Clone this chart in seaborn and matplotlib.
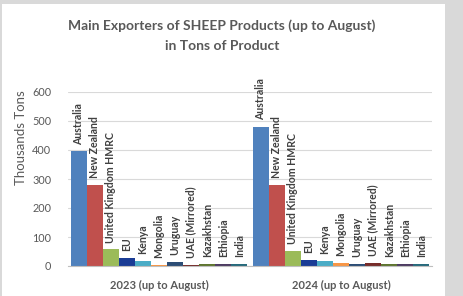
import pandas as pd
import seaborn as sns
import matplotlib.pyplot as plt
from matplotlib.patches import Rectangle

periods = ["2023 (up to August)", "2024 (up to August)"]
countries = ["Australia", "New Zealand", "United Kingdom HMRC", "EU", "Kenya", "Mongolia",
             "Uruguay", "UAE (Mirrored)", "Kazakhstan", "Ethiopia", "India"]
tons_2023 = [395, 280, 57, 28, 16, 4, 14, 2, 7, 6, 7]
tons_2024 = [478, 280, 51, 21, 17, 11, 8, 9, 8, 8, 8]
colors = ["#4F81BD", "#C0504D", "#9BBB59", "#1A3C95", "#4BACC6", "#F79646",
          "#2C4D75", "#772C2A", "#5F7530", "#4D3B62", "#276A7C"]

df = pd.DataFrame({
    "period": [periods[0]] * len(countries) + [periods[1]] * len(countries),
    "country": countries * 2,
    "tons": tons_2023 + tons_2024,
})

sns.set_style("white")
plt.rcParams["font.family"] = ["Lato", "DejaVu Sans"]

fig = plt.figure(figsize=(4.63, 2.96), dpi=100, facecolor="#D9D9D9")
fig.patches.append(Rectangle((1.5 / 463, 0), 443.5 / 463, 292 / 296, transform=fig.transFigure,
                             facecolor="white", edgecolor="none", zorder=-10))
ax = fig.add_axes([68 / 463, 1 - 266 / 296, 364 / 463, 174 / 296])
ax.set_facecolor("none")

sns.barplot(data=df, x="period", y="tons", hue="country", hue_order=countries,
            palette=colors, width=0.97, saturation=1, linewidth=0, legend=False, ax=ax)

# country names sit on top of each bar, rotated
for cont, name in zip(ax.containers, countries):
    ax.bar_label(cont, labels=[name] * len(cont), rotation=90, padding=5,
                 fontsize=7.6, fontweight="bold", color="#404040")

ax.set_ylim(0, 600)
ax.set_yticks(range(0, 700, 100))
ax.grid(axis="y", color="#D9D9D9", linewidth=0.8)
ax.set_axisbelow(True)
for s in ["top", "right", "left"]:
    ax.spines[s].set_visible(False)
ax.spines["bottom"].set_color("#BFBFBF")
ax.tick_params(axis="y", length=0, pad=12, labelsize=7.8, labelcolor="#595959")
ax.tick_params(axis="x", length=0, pad=10, labelsize=8, labelcolor="#595959")
for t in ax.get_xticklabels():
    t.set_fontweight("bold")
ax.set_xlabel("")
ax.set_ylabel("Thousands Tons", fontsize=9.5, color="#595959")
ax.yaxis.set_label_coords(-0.113, 0.735)

fig.text(222 / 463, 1 - 26 / 296, "Main Exporters of SHEEP Products (up to August)",
         ha="center", va="center", fontsize=10, fontweight="bold", color="#595959")
fig.text(222 / 463, 1 - 46 / 296, "in Tons of Product",
         ha="center", va="center", fontsize=10, fontweight="bold", color="#595959")

fig.savefig("out.png", dpi=100, facecolor=fig.get_facecolor())
